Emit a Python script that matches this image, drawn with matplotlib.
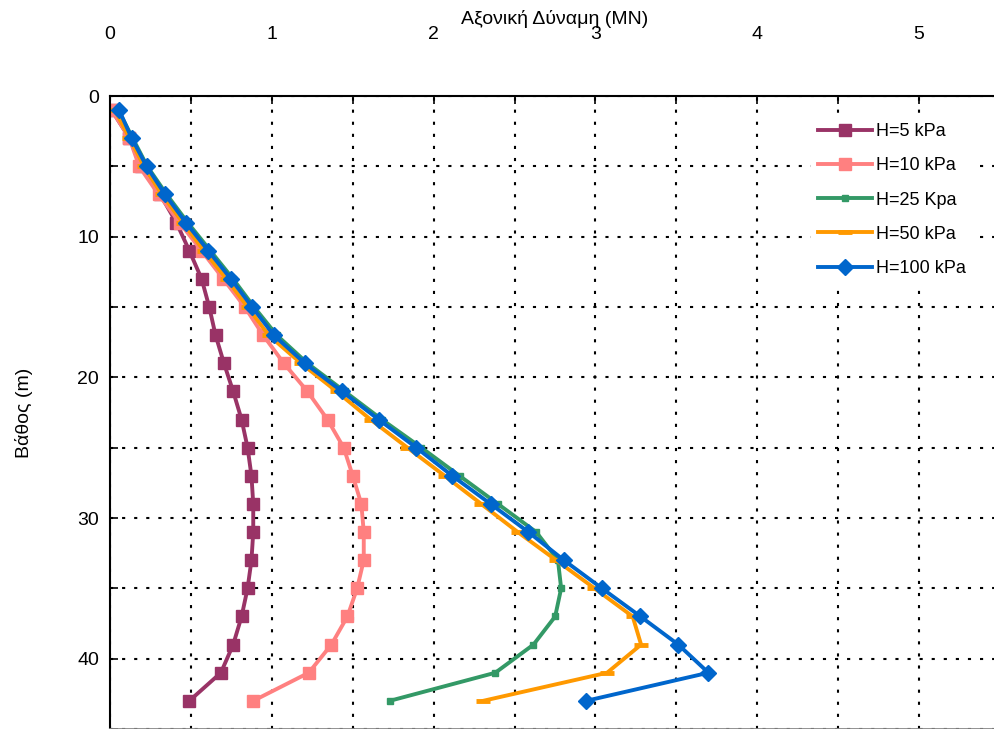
import numpy as np
import matplotlib
matplotlib.use("Agg")
import matplotlib.pyplot as plt
from matplotlib.ticker import MultipleLocator

plt.rcParams['font.family'] = ['Liberation Sans', 'DejaVu Sans']

# depth (m) of each measuring point
depth = [1, 3, 5, 7, 9, 11, 13, 15, 17, 19, 21, 23, 25, 27, 29, 31, 33, 35, 37, 39, 41, 43]

# axial force (MN) for each surcharge
h5 = [0.01, 0.12, 0.19, 0.31, 0.41, 0.49, 0.566, 0.613, 0.652, 0.704, 0.761, 0.813,
      0.85, 0.874, 0.885, 0.885, 0.874, 0.85, 0.813, 0.761, 0.685, 0.49]
h10 = [0.01, 0.12, 0.18, 0.30, 0.43, 0.566, 0.70, 0.833, 0.946, 1.074, 1.22, 1.344,
       1.444, 1.50, 1.553, 1.568, 1.568, 1.527, 1.467, 1.368, 1.228, 0.885]
h25 = [0.05, 0.14, 0.23, 0.35, 0.48, 0.62, 0.76, 0.89, 1.03, 1.22, 1.45, 1.68,
       1.924, 2.16, 2.397, 2.634, 2.768, 2.788, 2.751, 2.617, 2.381, 1.728]
h50 = [0.03, 0.12, 0.21, 0.32, 0.45, 0.58, 0.72, 0.85, 0.98, 1.18, 1.40, 1.61,
       1.838, 2.068, 2.294, 2.52, 2.757, 2.994, 3.23, 3.282, 3.072, 2.305]
h100 = [0.056, 0.134, 0.226, 0.34, 0.469, 0.607, 0.747, 0.878, 1.012, 1.204, 1.434, 1.66,
        1.893, 2.115, 2.352, 2.586, 2.805, 3.04, 3.278, 3.512, 3.698, 2.942]

labels = ["H=5 kPa", "H=10 kPa", "H=25 Kpa", "H=50 kPa", "H=100 kPa"]

fig = plt.figure(figsize=(9.95, 7.29), dpi=100)
ax = fig.add_axes([0.1106, 0.0, 0.8944, 0.8683])

lw = 2.8
ax.plot(h5, depth, color='#993366', lw=lw, marker='s', ms=8, label=labels[0])
ax.plot(h10, depth, color='#FF8080', lw=lw, marker='s', ms=8, label=labels[1])
ax.plot(h25, depth, color='#339966', lw=lw, marker='s', ms=5, label=labels[2])
ax.plot(h50, depth, color='#FF9900', lw=lw, marker='_', ms=10, mew=3.5, label=labels[3])
ax.plot(h100, depth, color='#0066CC', lw=lw, marker='D', ms=8.5, label=labels[4])

ax.set_xlim(0, 5.5)
ax.set_ylim(45, 0)

ax.xaxis.tick_top()
ax.xaxis.set_label_position('top')
ax.xaxis.set_major_locator(MultipleLocator(1))
ax.xaxis.set_minor_locator(MultipleLocator(0.5))
ax.yaxis.set_major_locator(MultipleLocator(10))
ax.yaxis.set_minor_locator(MultipleLocator(5))
ax.tick_params(axis='x', which='both', direction='in', length=6, width=1.2, labelsize=14, pad=38)
ax.tick_params(axis='y', which='both', direction='in', length=6, width=1.2, labelsize=14, pad=8)

ax.grid(True, which='both', color='black', lw=1.5, linestyle=(0, (1.5, 4.3)))
ax.set_axisbelow(True)

ax.spines['right'].set_visible(False)
ax.spines['top'].set_linewidth(1.5)
ax.spines['left'].set_linewidth(1.5)
ax.spines['bottom'].set_color('#888888')
ax.spines['bottom'].set_linewidth(2)

ax.set_xlabel('Αξονική Δύναμη (MN)', fontsize=14)
ax.xaxis.set_label_coords(0.5, 1.114)
ax.set_ylabel('Βάθος (m)', fontsize=14)
ax.yaxis.set_label_coords(-0.087, 0.5)

leg = ax.legend(loc='upper left', bbox_to_anchor=(802 / 995, 1 - 107 / 729),
                bbox_transform=fig.transFigure, fontsize=13, frameon=True,
                facecolor='white', edgecolor='none', framealpha=1, fancybox=False,
                handlelength=3.0, handletextpad=0.2, labelspacing=0.95, borderpad=0.4)

fig.savefig('out.png', dpi=100)
